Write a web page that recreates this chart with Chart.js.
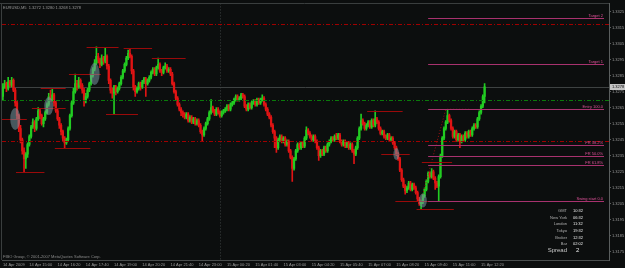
<!DOCTYPE html>
<html>
<head>
<meta charset="utf-8">
<script src="https://cdn.jsdelivr.net/npm/chart.js@4.4.1/dist/chart.umd.min.js"></script>
<style>
  html, body { margin: 0; padding: 0; background: #0c0e0e; }
  canvas { display: block; }
</style>
</head>
<body>
<canvas id="chart" width="625" height="268"></canvas>
<script>
// ============================================
// DATA  (EURUSD M5, 14 Apr 13:45 -> 15 Apr 12:30)
// ============================================

const opens = [
  1.3272,1.3278,1.3280,1.3277,1.3281,1.3279,1.3282,1.3276,1.3268,1.3260,
  1.3252,1.3245,1.3238,1.3233,1.3236,1.3242,1.3247,1.3253,1.3256,1.3252,
  1.3258,1.3263,1.3260,1.3255,1.3258,1.3262,1.3267,1.3272,1.3270,1.3273,
  1.3268,1.3263,1.3258,1.3254,1.3250,1.3246,1.3243,1.3245,1.3252,1.3260,
  1.3268,1.3275,1.3280,1.3278,1.3282,1.3279,1.3276,1.3270,1.3272,1.3276,
  1.3280,1.3285,1.3289,1.3293,1.3297,1.3295,1.3292,1.3296,1.3294,1.3297,
  1.3291,1.3282,1.3276,1.3274,1.3278,1.3275,1.3277,1.3280,1.3284,1.3288,
  1.3292,1.3296,1.3299,1.3297,1.3288,1.3278,1.3275,1.3277,1.3280,1.3278,
  1.3281,1.3283,1.3280,1.3282,1.3284,1.3287,1.3289,1.3286,1.3290,1.3292,
  1.3288,1.3287,1.3290,1.3291,1.3288,1.3289,1.3286,1.3280,1.3275,1.3271,
  1.3267,1.3264,1.3262,1.3261,1.3259,1.3261,1.3257,1.3259,1.3256,1.3258,
  1.3255,1.3257,1.3254,1.3250,1.3248,1.3252,1.3255,1.3258,1.3262,1.3265,
  1.3263,1.3261,1.3264,1.3262,1.3260,1.3262,1.3263,1.3264,1.3266,1.3264,
  1.3267,1.3268,1.3270,1.3272,1.3270,1.3271,1.3273,1.3272,1.3266,1.3264,
  1.3267,1.3265,1.3268,1.3269,1.3267,1.3270,1.3268,1.3270,1.3271,1.3267,
  1.3264,1.3261,1.3259,1.3254,1.3250,1.3246,1.3240,1.3245,1.3247,1.3244,
  1.3246,1.3242,1.3244,1.3238,1.3234,1.3227,1.3233,1.3238,1.3242,1.3240,
  1.3243,1.3241,1.3246,1.3251,1.3249,1.3247,1.3245,1.3247,1.3244,1.3240,
  1.3235,1.3238,1.3236,1.3240,1.3238,1.3242,1.3244,1.3246,1.3245,1.3247,
  1.3246,1.3248,1.3244,1.3242,1.3244,1.3241,1.3243,1.3240,1.3242,1.3238,
  1.3236,1.3240,1.3246,1.3252,1.3257,1.3255,1.3252,1.3254,1.3256,1.3253,
  1.3257,1.3254,1.3258,1.3256,1.3252,1.3249,1.3250,1.3247,1.3246,1.3248,
  1.3245,1.3246,1.3243,1.3240,1.3236,1.3233,1.3226,1.3220,1.3216,1.3213,
  1.3215,1.3218,1.3214,1.3217,1.3215,1.3212,1.3208,1.3205,1.3206,1.3210,
  1.3214,1.3219,1.3224,1.3222,1.3225,1.3221,1.3218,1.3216,1.3222,1.3235,
  1.3246,1.3252,1.3256,1.3260,1.3257,1.3252,1.3247,1.3250,1.3245,1.3248,
  1.3244,1.3247,1.3245,1.3249,1.3247,1.3250,1.3248,1.3252,1.3254,1.3253,
  1.3258,1.3262,1.3266,1.3272
];
const highs = [
  1.3280,1.3282,1.3281,1.3284,1.3282,1.3284,1.3283,1.3277,1.3269,1.3261,
  1.3254,1.3246,1.3240,1.3237,1.3243,1.3248,1.3254,1.3258,1.3257,1.3259,
  1.3265,1.3264,1.3261,1.3259,1.3263,1.3268,1.3274,1.3276,1.3277,1.3274,
  1.3269,1.3264,1.3259,1.3255,1.3251,1.3247,1.3246,1.3253,1.3261,1.3269,
  1.3277,1.3286,1.3282,1.3284,1.3283,1.3280,1.3277,1.3274,1.3277,1.3281,
  1.3286,1.3290,1.3295,1.3303,1.3299,1.3296,1.3298,1.3297,1.3302,1.3298,
  1.3292,1.3283,1.3277,1.3279,1.3279,1.3278,1.3281,1.3285,1.3289,1.3293,
  1.3297,1.3301,1.3302,1.3298,1.3289,1.3279,1.3278,1.3281,1.3281,1.3282,
  1.3284,1.3284,1.3283,1.3285,1.3288,1.3290,1.3290,1.3291,1.3296,1.3293,
  1.3289,1.3291,1.3293,1.3292,1.3290,1.3290,1.3287,1.3281,1.3276,1.3272,
  1.3268,1.3265,1.3263,1.3262,1.3262,1.3262,1.3260,1.3260,1.3259,1.3259,
  1.3258,1.3258,1.3255,1.3251,1.3253,1.3256,1.3259,1.3263,1.3270,1.3266,
  1.3264,1.3265,1.3265,1.3263,1.3263,1.3264,1.3265,1.3267,1.3267,1.3268,
  1.3269,1.3271,1.3273,1.3273,1.3272,1.3274,1.3274,1.3273,1.3267,1.3268,
  1.3268,1.3269,1.3270,1.3270,1.3271,1.3271,1.3271,1.3273,1.3272,1.3268,
  1.3265,1.3262,1.3260,1.3255,1.3251,1.3247,1.3246,1.3248,1.3248,1.3247,
  1.3247,1.3245,1.3245,1.3239,1.3235,1.3234,1.3239,1.3243,1.3243,1.3244,
  1.3244,1.3247,1.3253,1.3252,1.3250,1.3248,1.3248,1.3248,1.3245,1.3241,
  1.3239,1.3239,1.3241,1.3241,1.3243,1.3245,1.3247,1.3247,1.3248,1.3249,
  1.3249,1.3249,1.3245,1.3245,1.3245,1.3244,1.3244,1.3243,1.3243,1.3239,
  1.3241,1.3247,1.3253,1.3261,1.3258,1.3256,1.3255,1.3257,1.3257,1.3258,
  1.3258,1.3263,1.3259,1.3257,1.3253,1.3251,1.3251,1.3248,1.3249,1.3249,
  1.3247,1.3247,1.3244,1.3241,1.3237,1.3234,1.3227,1.3221,1.3217,1.3216,
  1.3219,1.3219,1.3218,1.3218,1.3216,1.3213,1.3209,1.3207,1.3211,1.3215,
  1.3220,1.3225,1.3225,1.3227,1.3226,1.3222,1.3219,1.3223,1.3236,1.3247,
  1.3253,1.3257,1.3264,1.3261,1.3258,1.3253,1.3251,1.3251,1.3249,1.3249,
  1.3248,1.3248,1.3250,1.3250,1.3251,1.3251,1.3253,1.3255,1.3255,1.3259,
  1.3263,1.3267,1.3273,1.3280
];
const lows = [
  1.3270,1.3277,1.3275,1.3276,1.3278,1.3278,1.3275,1.3266,1.3258,1.3250,
  1.3243,1.3236,1.3225,1.3227,1.3234,1.3241,1.3246,1.3252,1.3250,1.3251,
  1.3257,1.3258,1.3254,1.3253,1.3257,1.3261,1.3266,1.3269,1.3269,1.3266,
  1.3262,1.3257,1.3252,1.3248,1.3244,1.3240,1.3242,1.3244,1.3251,1.3259,
  1.3267,1.3274,1.3276,1.3277,1.3277,1.3274,1.3266,1.3268,1.3271,1.3275,
  1.3279,1.3284,1.3288,1.3292,1.3293,1.3290,1.3291,1.3292,1.3293,1.3289,
  1.3280,1.3274,1.3271,1.3261,1.3273,1.3274,1.3276,1.3279,1.3283,1.3287,
  1.3291,1.3295,1.3296,1.3286,1.3276,1.3272,1.3274,1.3276,1.3276,1.3277,
  1.3280,1.3272,1.3279,1.3281,1.3283,1.3286,1.3285,1.3285,1.3289,1.3287,
  1.3285,1.3286,1.3289,1.3287,1.3287,1.3285,1.3279,1.3274,1.3270,1.3266,
  1.3263,1.3260,1.3259,1.3258,1.3258,1.3256,1.3256,1.3255,1.3255,1.3254,
  1.3254,1.3253,1.3249,1.3244,1.3247,1.3251,1.3254,1.3257,1.3261,1.3262,
  1.3260,1.3260,1.3261,1.3259,1.3259,1.3261,1.3262,1.3263,1.3263,1.3263,
  1.3266,1.3267,1.3269,1.3269,1.3269,1.3270,1.3271,1.3265,1.3263,1.3263,
  1.3264,1.3264,1.3267,1.3266,1.3266,1.3267,1.3267,1.3269,1.3266,1.3263,
  1.3260,1.3258,1.3253,1.3249,1.3240,1.3237,1.3239,1.3244,1.3243,1.3243,
  1.3241,1.3241,1.3237,1.3233,1.3219,1.3226,1.3232,1.3237,1.3239,1.3239,
  1.3240,1.3240,1.3245,1.3248,1.3246,1.3244,1.3244,1.3243,1.3239,1.3232,
  1.3234,1.3235,1.3235,1.3237,1.3237,1.3241,1.3243,1.3244,1.3244,1.3245,
  1.3245,1.3243,1.3241,1.3241,1.3240,1.3240,1.3239,1.3239,1.3237,1.3230,
  1.3235,1.3239,1.3245,1.3251,1.3254,1.3251,1.3251,1.3253,1.3252,1.3252,
  1.3253,1.3253,1.3255,1.3251,1.3248,1.3248,1.3246,1.3245,1.3245,1.3244,
  1.3244,1.3242,1.3239,1.3235,1.3232,1.3225,1.3219,1.3215,1.3211,1.3212,
  1.3214,1.3213,1.3213,1.3214,1.3211,1.3207,1.3204,1.3202,1.3205,1.3209,
  1.3213,1.3218,1.3221,1.3221,1.3220,1.3214,1.3215,1.3207,1.3221,1.3234,
  1.3245,1.3251,1.3255,1.3256,1.3251,1.3246,1.3246,1.3244,1.3244,1.3240,
  1.3243,1.3244,1.3244,1.3246,1.3246,1.3247,1.3247,1.3251,1.3252,1.3252,
  1.3257,1.3261,1.3265,1.3268
];
const closes = [
  1.3278,1.3280,1.3277,1.3281,1.3279,1.3282,1.3276,1.3268,1.3260,1.3252,
  1.3245,1.3238,1.3233,1.3236,1.3242,1.3247,1.3253,1.3256,1.3252,1.3258,
  1.3263,1.3260,1.3255,1.3258,1.3262,1.3267,1.3272,1.3270,1.3273,1.3268,
  1.3263,1.3258,1.3254,1.3250,1.3246,1.3243,1.3245,1.3252,1.3260,1.3268,
  1.3275,1.3280,1.3278,1.3282,1.3279,1.3276,1.3270,1.3272,1.3276,1.3280,
  1.3285,1.3289,1.3293,1.3297,1.3295,1.3292,1.3296,1.3294,1.3297,1.3291,
  1.3282,1.3276,1.3274,1.3278,1.3275,1.3277,1.3280,1.3284,1.3288,1.3292,
  1.3296,1.3299,1.3297,1.3288,1.3278,1.3275,1.3277,1.3280,1.3278,1.3281,
  1.3283,1.3280,1.3282,1.3284,1.3287,1.3289,1.3286,1.3290,1.3292,1.3288,
  1.3287,1.3290,1.3291,1.3288,1.3289,1.3286,1.3280,1.3275,1.3271,1.3267,
  1.3264,1.3262,1.3261,1.3259,1.3261,1.3257,1.3259,1.3256,1.3258,1.3255,
  1.3257,1.3254,1.3250,1.3248,1.3252,1.3255,1.3258,1.3262,1.3265,1.3263,
  1.3261,1.3264,1.3262,1.3260,1.3262,1.3263,1.3264,1.3266,1.3264,1.3267,
  1.3268,1.3270,1.3272,1.3270,1.3271,1.3273,1.3272,1.3266,1.3264,1.3267,
  1.3265,1.3268,1.3269,1.3267,1.3270,1.3268,1.3270,1.3271,1.3267,1.3264,
  1.3261,1.3259,1.3254,1.3250,1.3246,1.3240,1.3245,1.3247,1.3244,1.3246,
  1.3242,1.3244,1.3238,1.3234,1.3227,1.3233,1.3238,1.3242,1.3240,1.3243,
  1.3241,1.3246,1.3251,1.3249,1.3247,1.3245,1.3247,1.3244,1.3240,1.3235,
  1.3238,1.3236,1.3240,1.3238,1.3242,1.3244,1.3246,1.3245,1.3247,1.3246,
  1.3248,1.3244,1.3242,1.3244,1.3241,1.3243,1.3240,1.3242,1.3238,1.3236,
  1.3240,1.3246,1.3252,1.3257,1.3255,1.3252,1.3254,1.3256,1.3253,1.3257,
  1.3254,1.3258,1.3256,1.3252,1.3249,1.3250,1.3247,1.3246,1.3248,1.3245,
  1.3246,1.3243,1.3240,1.3236,1.3233,1.3226,1.3220,1.3216,1.3213,1.3215,
  1.3218,1.3214,1.3217,1.3215,1.3212,1.3208,1.3205,1.3206,1.3210,1.3214,
  1.3219,1.3224,1.3222,1.3225,1.3221,1.3218,1.3216,1.3222,1.3235,1.3246,
  1.3252,1.3256,1.3260,1.3257,1.3252,1.3247,1.3250,1.3245,1.3248,1.3244,
  1.3247,1.3245,1.3249,1.3247,1.3250,1.3248,1.3252,1.3254,1.3253,1.3258,
  1.3262,1.3266,1.3272,1.3278
];

const yTicks = [
  1.3175, 1.3185, 1.3195, 1.3205, 1.3215, 1.3225, 1.3235, 1.3245,
  1.3255, 1.3265, 1.3275, 1.3285, 1.3295, 1.3305, 1.3315, 1.3325
];
const xTickLabels = [
  '14 Apr 2009', '14 Apr 15:00', '14 Apr 16:20', '14 Apr 17:40', '14 Apr 19:00',
  '14 Apr 20:20', '14 Apr 21:40', '14 Apr 23:00', '15 Apr 00:20', '15 Apr 01:40',
  '15 Apr 03:00', '15 Apr 04:20', '15 Apr 05:40', '15 Apr 07:00', '15 Apr 08:20',
  '15 Apr 09:40', '15 Apr 11:00', '15 Apr 12:20'
];

// horizontal dash-dot levels
const levelPrices = [1.3317, 1.3270, 1.3244];
const bidPrice = 1.3278;

// fibo expansion
const fiboNames  = ['Target 2', 'Target 1', 'Entry 100.0', 'FR 38.2%', 'FR 50.0%', 'FR 61.8%', 'Swing start 0.0'];
const fiboPrices = [1.3321, 1.3292, 1.3264, 1.3242, 1.3235, 1.3229, 1.3207];
const fiboStartBar = 241;

// short swing marks (price, from bar, to bar)
const markPrices = [1.3303, 1.3302, 1.3296, 1.3286, 1.3277, 1.3265, 1.3258, 1.3261, 1.3240, 1.3225, 1.3263, 1.3236, 1.3231, 1.3202, 1.3207];
const markFrom   = [48, 69, 85, 38, 22, 17, 0, 59, 30, 8, 207, 215, 238, 235, 223];
const markTo     = [65, 84, 103, 55, 35, 35, 13, 76, 49, 23, 226, 230, 254, 255, 241];

// highlighted swing points
const ellipseBars   = [7, 26, 52, 223, 238];
const ellipsePrices = [1.3258, 1.3266, 1.3286, 1.3236, 1.3207];

// clock panel
const clockNames = ['GMT', 'New York', 'London', 'Tokyo', 'Broker', 'Bar'];
const clockTimes = ['10:32', '06:32', '11:32', '19:32', '12:32', '02:02'];
const spreadValue = '2';

const titleText = 'EURUSD,M5  1.3272 1.3280 1.3268 1.3278';
const footerText = 'FIBO Group, \u00a9 2001-2007 MetaQuotes Software Corp.';

// ============================================
// SETUP
// ============================================

const SLOTS = 344;          // bars + empty shift area on the right
const DAY_SEP_BAR = 123;    // 15 Apr 00:00
const BG = '#0c0e0e';
const UP = '#22cc22';
const DOWN = '#e01414';
const FONT = 'Liberation Sans';

const months = ['Jan','Feb','Mar','Apr','May','Jun','Jul','Aug','Sep','Oct','Nov','Dec'];
const t0 = Date.UTC(2009, 3, 14, 13, 45);
const times = [];
for (let i = 0; i < SLOTS; i++) {
    const d = new Date(t0 + i * 300000);
    const hh = String(d.getUTCHours()).padStart(2, '0');
    const mm = String(d.getUTCMinutes()).padStart(2, '0');
    times.push(`${d.getUTCDate()} ${months[d.getUTCMonth()]} ${hh}:${mm}`);
}

const wicks = opens.map((o, i) => [lows[i], highs[i]]);
const bodies = opens.map((o, i) => [o, closes[i]]);
const colors = opens.map((o, i) => closes[i] >= o ? UP : DOWN);

Chart.defaults.font.family = FONT;

function hLine(ctx, x1, x2, y) {
    ctx.beginPath();
    ctx.moveTo(x1, Math.round(y) + 0.5);
    ctx.lineTo(x2, Math.round(y) + 0.5);
    ctx.stroke();
}

function text(ctx, s, x, y, color, size, align) {
    ctx.fillStyle = color;
    ctx.font = `${size}px "${FONT}"`;
    ctx.textAlign = align || 'left';
    ctx.textBaseline = 'middle';
    ctx.fillText(s, x, y);
}

// ============================================
// OVERLAY (objects drawn by MT4)
// ============================================

const mtOverlay = {
    id: 'mtOverlay',
    beforeDraw(chart) {
        const { ctx, width, height } = chart;
        ctx.save();
        ctx.fillStyle = BG;
        ctx.fillRect(0, 0, width, height);
        ctx.restore();
    },
    beforeDatasetsDraw(chart) {
        const { ctx, chartArea: a, scales: { x, y } } = chart;
        ctx.save();
        ctx.lineWidth = 1;

        // frame top / left
        ctx.strokeStyle = '#3a3e3e';
        hLine(ctx, 0, a.right, a.top);
        ctx.beginPath();
        ctx.moveTo(1.5, a.top);
        ctx.lineTo(1.5, a.bottom);
        ctx.stroke();

        // day separator
        const sx = Math.round(x.getPixelForValue(DAY_SEP_BAR)) + 0.5;
        ctx.strokeStyle = '#3c4040';
        ctx.setLineDash([1, 2]);
        ctx.beginPath();
        ctx.moveTo(sx, a.top);
        ctx.lineTo(sx, a.bottom);
        ctx.stroke();
        ctx.setLineDash([]);

        // bid line
        ctx.strokeStyle = '#3e4242';
        hLine(ctx, a.left, a.right, y.getPixelForValue(bidPrice));
        ctx.restore();
    },
    afterDatasetsDraw(chart) {
        const { ctx, chartArea: a, scales: { x, y } } = chart;
        ctx.save();
        ctx.lineWidth = 1;

        // dash-dot levels
        const levelColors = ['#a00000', '#0a7a0a', '#a00000'];
        ctx.setLineDash([4, 2, 1, 2]);
        levelPrices.forEach((p, i) => {
            ctx.strokeStyle = levelColors[i];
            hLine(ctx, a.left, a.right, y.getPixelForValue(p));
        });
        ctx.setLineDash([]);

        // swing marks
        ctx.strokeStyle = '#9a0a0a';
        markPrices.forEach((p, i) => {
            hLine(ctx, x.getPixelForValue(markFrom[i]) - 1, x.getPixelForValue(markTo[i]) + 1, y.getPixelForValue(p));
        });

        // fibo construction line (dotted)
        ctx.strokeStyle = '#a01010';
        ctx.setLineDash([1, 2]);
        ctx.beginPath();
        ctx.moveTo(x.getPixelForValue(237), y.getPixelForValue(fiboPrices[6]));
        ctx.lineTo(x.getPixelForValue(251), y.getPixelForValue(fiboPrices[2]));
        ctx.lineTo(x.getPixelForValue(265), y.getPixelForValue(fiboPrices[2]));
        ctx.stroke();
        ctx.setLineDash([]);

        // fibo levels
        const fx1 = x.getPixelForValue(fiboStartBar);
        const fx2 = a.right - 5;
        ctx.strokeStyle = '#a8326e';
        fiboPrices.forEach((p, i) => {
            const py = y.getPixelForValue(p);
            hLine(ctx, fx1, fx2, py);
            text(ctx, fiboNames[i], fx2 - 1, Math.round(py) - 2.5, '#e0529a', 4, 'right');
        });

        // highlighted points
        ctx.fillStyle = 'rgba(120, 150, 160, 0.55)';
        const radii = [[5, 11], [4.5, 9], [5, 11], [3, 6], [4, 7]];
        ellipseBars.forEach((b, i) => {
            ctx.beginPath();
            ctx.ellipse(x.getPixelForValue(b), y.getPixelForValue(ellipsePrices[i]), radii[i][0], radii[i][1], 0, 0, Math.PI * 2);
            ctx.fill();
        });

        // texts
        text(ctx, titleText, a.left + 1, a.top + 4, '#9a9a9a', 4, 'left');
        text(ctx, footerText, a.left + 1, a.bottom - 3, '#8a8a8a', 4, 'left');

        // clock panel
        clockNames.forEach((n, i) => {
            const ry = a.bottom - 49 + i * 6.6;
            text(ctx, n, a.right - 42, ry, '#b0b0b0', 4, 'right');
            text(ctx, clockTimes[i], a.right - 36, ry, '#e8e8e8', 4, 'left');
        });
        text(ctx, 'Spread', a.right - 42, a.bottom - 10, '#c8c8c8', 6, 'right');
        text(ctx, spreadValue, a.right - 33, a.bottom - 10, '#e8e8e8', 6, 'left');

        // bid price box on the axis
        const by = Math.round(y.getPixelForValue(bidPrice));
        ctx.fillStyle = '#c4c4c4';
        ctx.fillRect(a.right + 1, by - 3, chart.width - a.right - 1, 6);
        text(ctx, bidPrice.toFixed(4), a.right + 3, by, '#101010', 4, 'left');
        ctx.restore();
    }
};

// ============================================
// CHART
// ============================================

const ctx = document.getElementById('chart').getContext('2d');

const chart = new Chart(ctx, {
    type: 'bar',
    data: {
        labels: times,
        datasets: [
            { data: wicks, backgroundColor: colors, barThickness: 1, grouped: false, order: 2 },
            { data: bodies, backgroundColor: colors, barThickness: 1.6, grouped: false, minBarLength: 1, order: 1 }
        ]
    },
    options: {
        responsive: false,
        animation: false,
        devicePixelRatio: 1,
        layout: { padding: { left: 2, top: 1, right: 0, bottom: 0 } },
        plugins: {
            legend: { display: false },
            tooltip: { enabled: false }
        },
        scales: {
            x: {
                offset: true,
                grid: { display: false, drawTicks: false },
                border: { display: true, color: '#4a4e4e' },
                ticks: {
                    autoSkip: false,
                    maxRotation: 0,
                    align: 'start',
                    padding: 2,
                    color: '#9a9a9a',
                    font: { size: 4, family: FONT },
                    callback: function(val, index) {
                        if (index === 0) return xTickLabels[0];
                        if (index >= opens.length) return '';
                        return xTickLabels.indexOf(times[index]) > 0 ? times[index] : '';
                    }
                },
                afterFit: s => { s.height = 8; }
            },
            y: {
                position: 'right',
                min: 1.31699,
                max: 1.33301,
                grid: { display: true, drawOnChartArea: false, drawTicks: true, tickLength: 2, color: '#5a5e5e' },
                border: { display: true, color: '#5a5e5e' },
                ticks: {
                    padding: 1,
                    color: '#9a9a9a',
                    font: { size: 4, family: FONT },
                    callback: v => v.toFixed(4)
                },
                afterBuildTicks: s => { s.ticks = yTicks.map(v => ({ value: v })); },
                afterFit: s => { s.width = 16; }
            }
        }
    },
    plugins: [mtOverlay]
});
</script>
</body>
</html>
